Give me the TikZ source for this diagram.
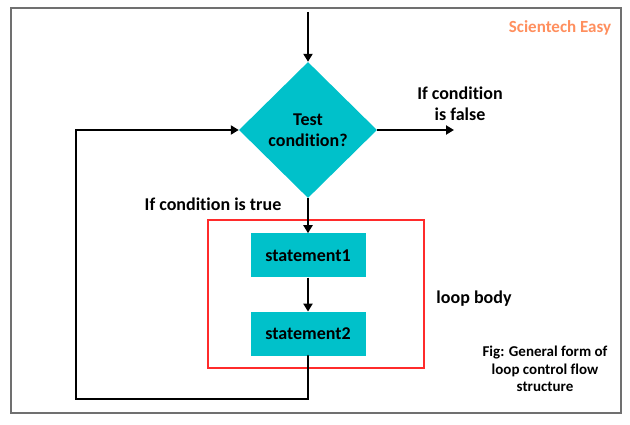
\documentclass[tikz,border=0pt]{standalone}
\usepackage{fontspec}
\setmainfont{Carlito}[Ligatures = NoCommon]
\usepackage{tikz}
\usetikzlibrary{positioning,shapes,arrows.meta}
\definecolor{teal}{HTML}{00C1CA}
\definecolor{redbox}{HTML}{FF2B2B}
\definecolor{brand}{HTML}{FF8F5E}
\definecolor{frame}{HTML}{707070}

\begin{document}
\begin{tikzpicture}[x=1pt, y=-1pt]
\tikzstyle{dec}=[diamond, fill = teal, inner sep = 0 pt, minimum width = 138pt, minimum height = 136pt, align = center, font = \bfseries\fontsize{18}{21}\selectfont]
\tikzstyle{stm}=[rectangle, fill = teal, minimum width = 115pt, minimum height = 44pt, font = \bfseries\fontsize{18}{21}\selectfont]
\tikzstyle{txt}=[inner sep = 0 pt, align = center, font = \bfseries\fontsize{18}{21}\selectfont]
\tikzstyle{arr}=[line width = 2.6pt, -{Triangle[length = 8pt, width = 9pt]}]
\pgfmathsetmacro{\rr}{34}

\useasboundingbox (0,0) rectangle (630,425);
\draw[frame, line width = 2pt] (11,8) rectangle (621,413);

\node[dec] (T) at (308,130) {Test\\condition?};
\node[stm, below = 35pt of T.south, anchor = north] (S1) {statement1};
\node[stm, below = \rr pt of S1] (S2) {statement2};
\node[draw = redbox, line width = 2pt, minimum width = 216pt, minimum height = 148pt] (B) at (316,294) {};

\coordinate (top) at (308,12);
\coordinate (no) at (454,130);
\coordinate (back) at (76,399);

\draw[arr] (top) -- (T.north);
\draw[arr] (T.east) -- (no);
\draw[arr] (T.south) -- (S1.north);
\draw[arr] (S1.south) -- (S2.north);
\draw[arr, line cap = round] (S2.south) |- (back) |- (T.west);

\node[txt] (F) at (460,104) {If condition\\is false};
\node[txt] (Tr) at (213,204) {If condition is true};
\node[txt] (L) at (474,299) {loop body};
\node[txt, font = \bfseries\fontsize{15}{17.5}\selectfont] (C) at (545,369) {Fig: General form of\\loop control flow\\structure};
\node[txt, text = brand, font = \bfseries\fontsize{17}{20}\selectfont] (W) at (560,28) {Scientech Easy};
\end{tikzpicture}
\end{document}
